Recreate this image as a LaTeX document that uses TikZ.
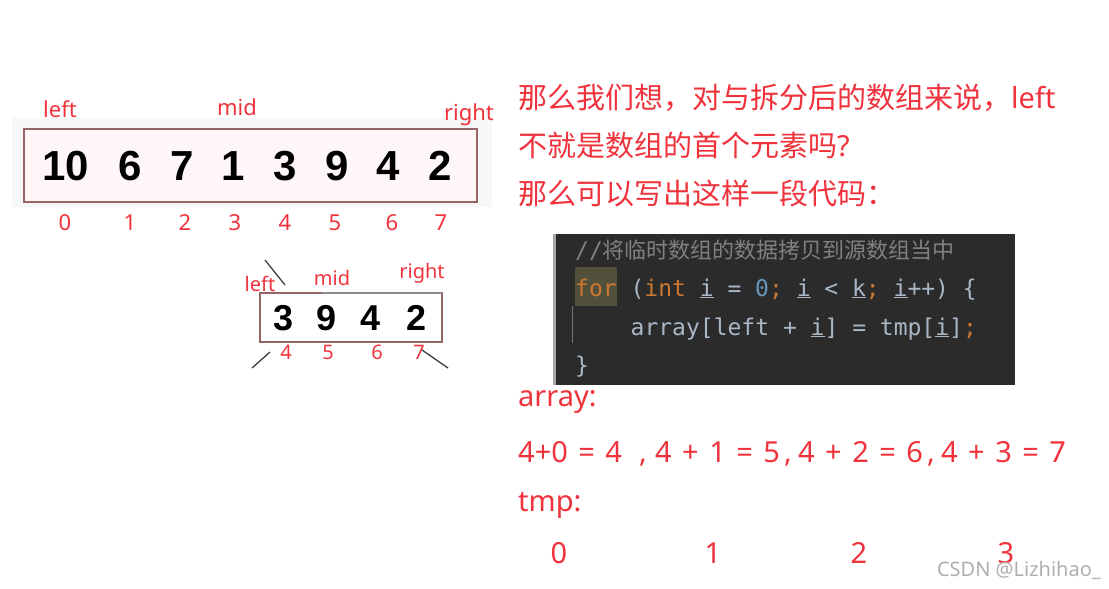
\documentclass[tikz,border=0pt]{standalone}
\usepackage{fontspec}
\setmainfont{Noto Sans}
\newfontfamily\cjkfont{Noto Sans CJK SC}
\newfontfamily\arrfont{Liberation Sans}
\setmonofont{DejaVu Sans Mono}
\definecolor{redtxt}{RGB}{240,50,60}
\definecolor{codebg}{RGB}{43,43,43}
\definecolor{codefg}{RGB}{169,183,198}
\definecolor{kwcol}{RGB}{204,120,50}
\definecolor{numcol}{RGB}{104,151,187}
\definecolor{cmtcol}{RGB}{128,128,128}
\definecolor{hlcol}{RGB}{82,80,58}
\definecolor{boxbrd}{RGB}{150,100,100}
\definecolor{wmcol}{RGB}{175,175,175}
\newcommand\cfgx[1]{\textcolor{codefg}{#1}}
\newcommand\ckwx[1]{\textcolor{kwcol}{#1}}
\newcommand\cnumx[1]{\textcolor{numcol}{#1}}
\newcommand\widespx{\fontsize{29}{29}\selectfont\spaceskip=0.36em\relax}
\tikzset{
  redlbl/.style={text=redtxt, inner sep=0pt, font=\fontsize{22}{22}\selectfont},
  redsm/.style={text=redtxt, inner sep=0pt, font=\fontsize{20}{20}\selectfont},
  bigdig/.style={inner sep=0pt, font=\arrfont\bfseries\fontsize{42}{42}\selectfont},
  smdig/.style={inner sep=0pt, font=\arrfont\bfseries\fontsize{36}{36}\selectfont},
  cjkline/.style={anchor=west, text=redtxt, inner sep=0pt, font=\cjkfont\fontsize{29}{29}\selectfont},
  latline/.style={anchor=west, text=redtxt, inner sep=0pt, font=\widespx},
  eqpart/.style={anchor=base west, text=redtxt, inner sep=0pt, font=\widespx},
  codeline/.style={anchor=base west, inner sep=0pt, font=\ttfamily\fontsize{23}{23}\selectfont},
  frag/.style={draw=black!75, line width=1.3pt},
}
\begin{document}
\begin{tikzpicture}[x=1pt,y=-1pt]
\useasboundingbox (0,0) rectangle (1109,589);
\fill[white] (0,0) rectangle (1109,589);
% ---- big array image
\fill[black!3] (12,118) rectangle (492,207);
\draw[boxbrd, line width=2pt, fill=white!97!red] (24,129) rectangle (477,202);
\node[redlbl] (bl) at (60,109) {left};
\node[redlbl] (bm) at (237,107) {mid};
\node[redlbl] (br) at (469,115) {right};
\foreach \v/\x [count=\i from 0] in {10/66,6/130,7/182,1/233,3/285,9/337,4/388,2/440}{
  \node[bigdig] (b\i) at (\x,166) {\v};
}
\foreach \x [count=\i from 0] in {65,130,185,235,285,335,392,441}{
  \node[redlbl] (bi\i) at (\x,223) {\i};
}
% ---- small array image
\draw[boxbrd, line width=1.5pt, fill=white] (260,293) rectangle (442,342);
\draw[black!45, line width=1.5pt] (322,293) -- (442,293);
\node[redsm] (sl) at (260,284) {left};
\node[redsm] (sm) at (332,278) {mid};
\node[redsm] (sr) at (422,273) {right};
\foreach \v/\x [count=\i from 0] in {3/284,9/327,4/371,2/417}{
  \node[smdig] (s\i) at (\x,318) {\v};
}
\foreach \v/\x [count=\i from 0] in {4/286,5/328,6/377,7/419}{
  \node[redsm] (si\i) at (\x,352) {\v};
}
\coordinate (f1a) at (265,260); \coordinate (f1b) at (285,285);
\coordinate (f2a) at (270,352); \coordinate (f2b) at (252,368);
\coordinate (f3a) at (422,350); \coordinate (f3b) at (448,368);
\draw[frag] (f1a) -- (f1b);
\draw[frag] (f2a) -- (f2b);
\draw[frag] (f3a) -- (f3b);
% ---- right text
\node[cjkline] (t1) at (518,98) {那么我们想，对与拆分后的数组来说，{\fontspec{Noto Sans}left}};
\node[cjkline] (t2) at (518,145) {不就是数组的首个元素吗{\fontspec{Noto Sans}?}};
\node[cjkline] (t3) at (518,193) {那么可以写出这样一段代码：};
% ---- code block
\fill[codebg] (553,234) rectangle (1015,385);
\fill[black!35] (553,234) rectangle (556,385);
\fill[hlcol] (575,267) rectangle (616.5,306);
\draw[black!55, line width=1pt] (572,306) -- (572,343);
\node[codeline, text=cmtcol] (c0) at (575,258) {//{\cjkfont\fontsize{22}{22}\selectfont 将临时数组的数据拷贝到源数组当中}};
\node[codeline] (c1) at (575,296) {\ckwx{for} \cfgx{(}\ckwx{int} \cfgx{\underline{i} = }\cnumx{0}\ckwx{;} \cfgx{\underline{i} < \underline{k}}\ckwx{;} \cfgx{\underline{i}++) \{}};
\node[codeline] (c2) at (630.5,335) {\cfgx{array[left + \underline{i}] = tmp[\underline{i}]}\ckwx{;}};
\node[codeline] (c3) at (575,373) {\cfgx{\}}};
% ---- lower text
\node[latline] (a1) at (518,402) {array:};
\node[eqpart] (e1) at (518,462) {4+0 = 4};
\node[eqpart] (k1) at (639,462) {,};
\node[eqpart] (e2) at (655,462) {4 + 1 = 5};
\node[eqpart] (k2) at (784,462) {,};
\node[eqpart] (e3) at (798,462) {4 + 2 = 6};
\node[eqpart] (k3) at (927,462) {,};
\node[eqpart] (e4) at (941,462) {4 + 3 = 7};
\node[latline] (a2) at (518,505) {tmp:};
\foreach \x [count=\i from 0] in {559,713,859,1006}{
  \node[text=redtxt, inner sep=0pt, font=\fontsize{29}{29}\selectfont] (tm\i) at (\x,553) {\i};
}
\node[text=wmcol, inner sep=0pt, anchor=east, font=\fontsize{20}{20}\selectfont] (wm) at (1101,570) {CSDN @Lizhihao\_};
\end{tikzpicture}
\end{document}
